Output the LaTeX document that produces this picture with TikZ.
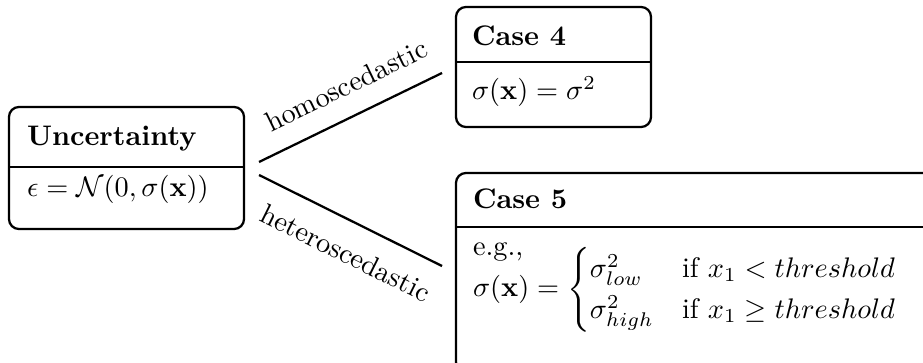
\documentclass[tikz,border=0pt]{standalone}
\usepackage{amsmath}
\usetikzlibrary{fit,calc}
\begin{document}
\begin{tikzpicture}[x=0.3534pt, y=-0.3534pt, line width=0.8pt,
  box/.style={draw, rounded corners=3.5pt, inner sep=0pt, outer sep=0pt},
  txt/.style={anchor=base west, inner sep=0pt, outer sep=0pt},
  lab/.style={pos=0.55, sloped, inner sep=7pt}]
\clip (0,0) rectangle (923,363);
% boxes
\node[box, fit={(9,107) (244,229)}] (unc) {};
\node[box, fit={(456,7) (651,127)}] (c4) {};
\node[box, fit={(456,173) (945,372)}] (c5) {};
% dividers
\draw (unc.west |- 0,167) -- (unc.east |- 0,167);
\draw (c4.west |- 0,62) -- (c4.east |- 0,62);
\draw (c5.west |- 0,227) -- (c5.east |- 0,227);
% texts
\node[txt] (t1) at (27,146) {\textbf{Uncertainty}};
\node[txt] (t2) at (27,197) {$\epsilon = \mathcal{N}(0,\sigma(\mathbf{x}))$};
\node[txt] (t3) at (472,46) {\textbf{Case 4}};
\node[txt] (t4) at (472,100) {$\sigma(\mathbf{x}) = \sigma^2$};
\node[txt] (t5) at (473,209) {\textbf{Case 5}};
\node[txt] (t6) at (473,256) {e.g.,};
\node[txt] (t7) at (473,297) {$\sigma(\mathbf{x}) = \begin{cases} \sigma^2_{low} & \text{if } x_1 < threshold\\ \sigma^2_{high} & \text{if } x_1 \geq threshold \end{cases}$};
% connectors
\draw ($(unc.east)+(15,-6)$) -- node[lab, above] {homoscedastic} ($(c4.west)+(-14,6)$);
\draw ($(unc.east)+(15,7)$) -- node[lab, below] {heteroscedastic} ($(c5.west)+(-14,-6.5)$);
\end{tikzpicture}
\end{document}
